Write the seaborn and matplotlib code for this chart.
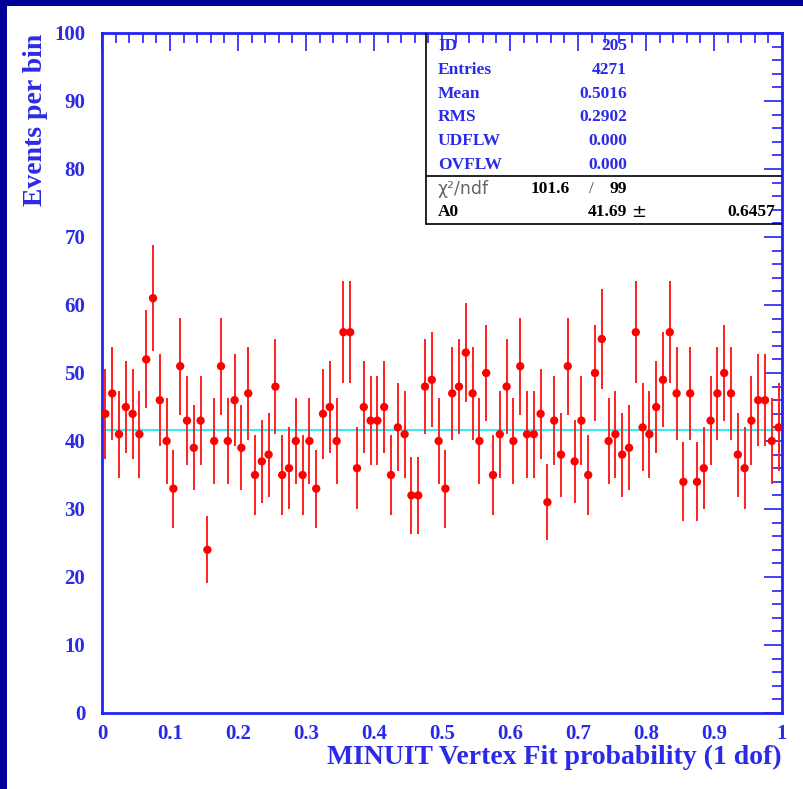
import numpy as np
import pandas as pd
import seaborn as sns
import matplotlib
matplotlib.use("Agg")
import matplotlib.pyplot as plt
from matplotlib.patches import Rectangle
from matplotlib.ticker import MultipleLocator, FuncFormatter

# ---- data ----
bin_centers = [round(0.005 + 0.01 * i, 3) for i in range(100)]
counts = [44, 47, 41, 45, 44, 41, 52, 61, 46, 40,
          33, 51, 43, 39, 43, 24, 40, 51, 40, 46,
          39, 47, 35, 37, 38, 48, 35, 36, 40, 35,
          40, 33, 44, 45, 40, 56, 56, 36, 45, 43,
          43, 45, 35, 42, 41, 32, 32, 48, 49, 40,
          33, 47, 48, 53, 47, 40, 50, 35, 41, 48,
          40, 51, 41, 41, 44, 31, 43, 38, 51, 37,
          43, 35, 50, 55, 40, 41, 38, 39, 56, 42,
          41, 45, 49, 56, 47, 34, 47, 34, 36, 43,
          47, 50, 47, 38, 36, 43, 46, 46, 40, 42]
fit_value = 41.69
fit_x = [0.0, 1.0]
stats_labels = ["ID", "Entries", "Mean", "RMS", "UDFLW", "OVFLW"]
stats_values = ["205", "4271", "0.5016", "0.2902", "0.000", "0.000"]
chi2_text = ["101.6", "/", "99"]
a0_text = ["A0", "41.69", "\u00b1", "0.6457"]

df = pd.DataFrame({"x": bin_centers, "y": counts})
df["err"] = np.sqrt(df["y"])

W, H = 804, 789
BLUE = "#2323f5"
TEXTBLUE = "#2a2ae8"
SERIF = ["Liberation Serif", "DejaVu Serif"]

sns.set_style("white")
plt.rcParams["font.family"] = SERIF

fig = plt.figure(figsize=(W / 100, H / 100), dpi=100)
fig.patch.set_facecolor("white")

def fx(px):
    return px / W

def fy(py):
    return 1 - py / H

left, right, top, bottom = 102, 782, 33, 713
ax = fig.add_axes([fx(left), fy(bottom), fx(right) - fx(left), fy(top) - fy(bottom)])

# error bars
ax.errorbar(df["x"], df["y"], yerr=df["err"], xerr=0.005, fmt="none",
            ecolor="#ff2020", elinewidth=1.4, capsize=0, zorder=2)
sns.scatterplot(data=df, x="x", y="y", ax=ax, color="#ff0000", s=36,
                edgecolor="none", zorder=3, legend=False)
sns.lineplot(x=fit_x, y=[fit_value, fit_value], ax=ax, color="#33eeee",
             linewidth=1.5, zorder=1)

ax.set_xlim(0, 1)
ax.set_ylim(0, 100)
ax.set_xlabel("")
ax.set_ylabel("")

for sp in ax.spines.values():
    sp.set_visible(True)
    sp.set_color(BLUE)
    sp.set_linewidth(2)

ax.xaxis.set_major_locator(MultipleLocator(0.1))
ax.xaxis.set_minor_locator(MultipleLocator(0.02))
ax.yaxis.set_major_locator(MultipleLocator(10))
ax.yaxis.set_minor_locator(MultipleLocator(2))

def xfmt(v, pos):
    if abs(v) < 1e-9:
        return "0"
    if abs(v - 1) < 1e-9:
        return "1"
    return f"{v:.1f}"

ax.xaxis.set_major_formatter(FuncFormatter(xfmt))
ax.yaxis.set_major_formatter(FuncFormatter(lambda v, p: f"{int(round(v))}"))

ax.tick_params(which="both", direction="in", top=True, right=True,
               color=BLUE, labelcolor=TEXTBLUE)
ax.tick_params(which="major", length=13, width=1.2)
ax.tick_params(which="minor", length=7, width=1.2)
ax.tick_params(axis="x", which="major", pad=8, labelsize=15)
ax.tick_params(axis="y", which="major", pad=12, labelsize=15)
for lab in ax.get_xticklabels() + ax.get_yticklabels():
    lab.set_fontweight("bold")

# stats box lines
bx0 = (426 - left) / (right - left)
sep_y = (bottom - 176) / (bottom - top)
bot_y = (bottom - 224) / (bottom - top)
ax.plot([bx0, bx0], [bot_y, 1], transform=ax.transAxes, color="black", lw=1.2, zorder=5)
ax.plot([bx0, 1], [sep_y, sep_y], transform=ax.transAxes, color="black", lw=1.2, zorder=5)
ax.plot([bx0, 1], [bot_y, bot_y], transform=ax.transAxes, color="black", lw=1.2, zorder=5)

row_y = [46, 70, 94, 117, 141, 165]
for lab, val, yy in zip(stats_labels, stats_values, row_y):
    fig.text(fx(438), fy(yy), lab, ha="left", va="center", fontsize=12.5,
             fontweight="bold", color=TEXTBLUE, family=SERIF, zorder=6)
    fig.text(fx(627), fy(yy), val, ha="right", va="center", fontsize=12.5,
             fontweight="bold", color=TEXTBLUE, family=SERIF, zorder=6)

fig.text(fx(438), fy(189), "\u03c7\u00b2/ndf", ha="left", va="center", fontsize=12.5,
         color="#666666", family=["DejaVu Sans"], zorder=6)
fig.text(fx(570), fy(189), chi2_text[0], ha="right", va="center", fontsize=12.5,
         fontweight="bold", color="black", family=SERIF, zorder=6)
fig.text(fx(591), fy(189), chi2_text[1], ha="center", va="center", fontsize=12.5,
         color="#444444", family=SERIF, zorder=6)
fig.text(fx(627), fy(189), chi2_text[2], ha="right", va="center", fontsize=12.5,
         fontweight="bold", color="black", family=SERIF, zorder=6)
fig.text(fx(438), fy(212), a0_text[0], ha="left", va="center", fontsize=12.5,
         fontweight="bold", color="black", family=SERIF, zorder=6)
fig.text(fx(627), fy(212), a0_text[1], ha="right", va="center", fontsize=12.5,
         fontweight="bold", color="black", family=SERIF, zorder=6)
fig.text(fx(639), fy(212), a0_text[2], ha="center", va="center", fontsize=13,
         color="black", family=["DejaVu Sans"], zorder=6)
fig.text(fx(775), fy(212), a0_text[3], ha="right", va="center", fontsize=12.5,
         fontweight="bold", color="black", family=SERIF, zorder=6)

# axis titles
fig.text(fx(782), fy(757), "MINUIT Vertex Fit probability (1 dof)", ha="right",
         va="center", fontsize=20, fontweight="bold", color=TEXTBLUE, family=SERIF)
fig.text(fx(36), fy(34), "Events per bin", ha="center", va="top", rotation=90,
         fontsize=20, fontweight="bold", color=TEXTBLUE, family=SERIF)

# navy frame (left and top)
fig.patches.append(Rectangle((0, 0), fx(7), 1, transform=fig.transFigure,
                             facecolor="#000099", edgecolor="none", zorder=10))
fig.patches.append(Rectangle((0, fy(6)), 1, 1 - fy(6), transform=fig.transFigure,
                             facecolor="#000099", edgecolor="none", zorder=10))

fig.savefig("out.png", dpi=100, facecolor="white")
